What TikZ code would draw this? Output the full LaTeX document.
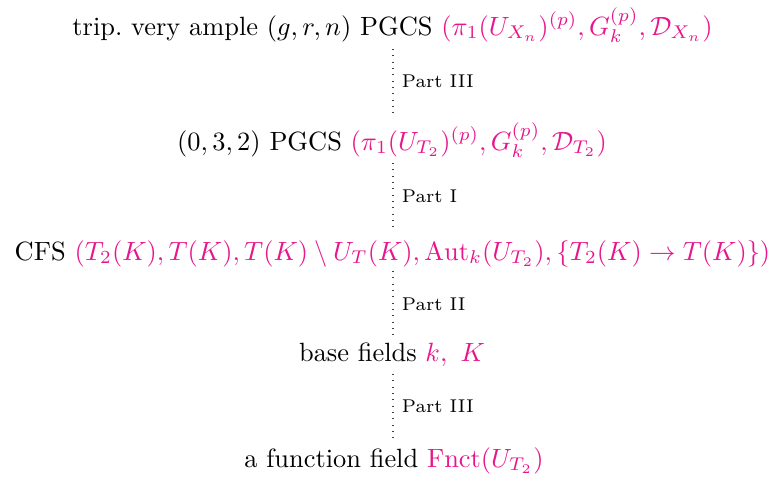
\documentclass[tikz,border=0pt]{standalone}
\usepackage{amsmath,amssymb}
\definecolor{hl}{RGB}{232,22,140}
\begin{document}
\begin{tikzpicture}[x=0.3788pt,y=-0.3788pt,
  row/.style={anchor=base,inner sep=0pt},
  conn/.style={dotted,line width=0.4pt,black!75},
  lbl/.style={right,font=\scriptsize,text=black,inner sep=0pt,xshift=3.2pt}]
\useasboundingbox (0,0) rectangle (777,482);
\coordinate (cx) at (393,0);
\node[row] (r1) at (392.5,35) {trip.\ very ample $(g,r,n)$ PGCS \textcolor{hl}{$(\pi_1(U_{X_n})^{(p)},G_k^{(p)},\mathcal{D}_{X_n})$}};
\node[row] (r2) at (392,150) {$(0,3,2)$ PGCS \textcolor{hl}{$(\pi_1(U_{T_2})^{(p)},G_k^{(p)},\mathcal{D}_{T_2})$}};
\node[row] (r3) at (392.5,260) {CFS \textcolor{hl}{$(T_2(K),T(K),T(K)\setminus U_T(K),\mathrm{Aut}_k(U_{T_2}),\{T_2(K)\to T(K)\})$}};
\node[row] (r4) at (392,361) {base fields \textcolor{hl}{$k,\ K$}};
\node[row] (r5) at (394,467) {a function field \textcolor{hl}{$\mathrm{Fnct}(U_{T_2})$}};
\draw[conn] ([yshift=-14*0.3788pt]r1.base -| cx) -- ([yshift=37*0.3788pt]r2.base -| cx) node[lbl,midway] {Part III};
\draw[conn] ([yshift=-13*0.3788pt]r2.base -| cx) -- ([yshift=31*0.3788pt]r3.base -| cx) node[lbl,midway] {Part I};
\draw[conn] ([yshift=-11*0.3788pt]r3.base -| cx) -- ([yshift=23*0.3788pt]r4.base -| cx) node[lbl,midway] {Part II};
\draw[conn] ([yshift=-13*0.3788pt]r4.base -| cx) -- ([yshift=29*0.3788pt]r5.base -| cx) node[lbl,midway] {Part III};
\end{tikzpicture}
\end{document}
